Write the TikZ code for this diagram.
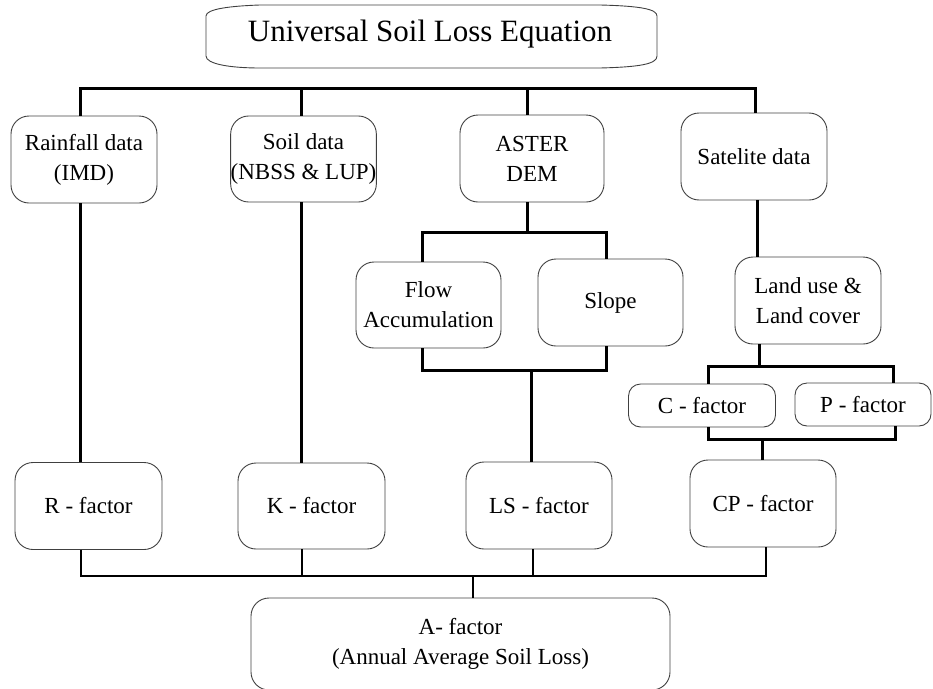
\documentclass[tikz,border=0pt]{standalone}
\usepackage{fontspec}
\setmainfont{Liberation Serif}
\begin{document}
\begin{tikzpicture}[x=1pt,y=-1pt,
  box/.style={draw=black!75, line width=0.9pt, rounded corners=18pt, align=center, inner sep=0pt,
    font=\fontsize{23}{30}\selectfont},
  smallbox/.style={box, rounded corners=12pt},
  conn/.style={line width=3pt, line join=miter},
  conn2/.style={line width=2.6pt, line join=miter}]
\useasboundingbox (0,0) rectangle (933,688);
% title
\draw[draw=black!75, line width=0.9pt] (206,16) -- (206,56) .. controls (206,64) and (230,68) .. (260,68) -- (600,68)
  .. controls (640,67) and (657,64) .. (657,56) -- (657,16) .. controls (657,9) and (640,6) .. (600,5)
  -- (260,5) .. controls (230,6) and (206,9) .. (206,16) -- cycle;
\node[font=\fontsize{31}{36}\selectfont] (title) at (430,34) {Universal Soil Loss Equation};
% row 1
\node[box, minimum width=146pt, minimum height=87pt] (rain) at (84,159.5) {Rainfall data\\(IMD)};
\node[box, minimum width=145pt, minimum height=86pt] (soil) at (303.5,159) {Soil data\\(NBSS \& LUP)};
\node[box, minimum width=144pt, minimum height=87pt] (aster) at (532,158.5) {ASTER\\DEM};
\node[box, minimum width=146pt, minimum height=87pt] (sat) at (754,156.5) {Satelite data};
% row 2
\node[box, minimum width=145pt, minimum height=86pt] (flow) at (428.5,305) {Flow\\Accumulation};
\node[box, minimum width=145pt, minimum height=87pt] (slope) at (610.5,302.5) {Slope};
\node[box, minimum width=146pt, minimum height=87pt] (land) at (808,300.5) {Land use \&\\Land cover};
% row 3
\node[smallbox, minimum width=147pt, minimum height=43pt] (cf) at (702,405.5) {C - factor};
\node[smallbox, minimum width=136pt, minimum height=43pt] (pf) at (863,404.5) {P - factor};
% row 4
\node[box, minimum width=147pt, minimum height=87pt] (rf) at (88.5,506) {R - factor};
\node[box, minimum width=147pt, minimum height=86pt] (kf) at (311.5,506) {K - factor};
\node[box, minimum width=146pt, minimum height=87pt] (lsf) at (539,505.5) {LS - factor};
\node[box, minimum width=146pt, minimum height=87pt] (cpf) at (763,503.5) {CP - factor};
% A
\node[box, minimum width=419pt, minimum height=92pt] (af) at (460.5,644) {A- factor\\(Annual Average Soil Loss)};
% top bus
\draw[conn] (80,0 |- rain.north) -- (80,88) -- (755,88) -- (755,0 |- sat.north);
\draw[conn] (301,88) -- (301,0 |- soil.north);
\draw[conn] (527,88) -- (527,0 |- aster.north);
% data to factors
\draw[conn] (80,0 |- rain.south) -- (80,0 |- rf.north);
\draw[conn] (301,0 |- soil.south) -- (301,0 |- kf.north);
% aster branch
\draw[conn] (527,0 |- aster.south) -- (527,232);
\draw[conn] (422,0 |- flow.north) -- (422,232) -- (606,232) -- (606,0 |- slope.north);
\draw[conn] (422,0 |- flow.south) -- (422,370) -- (606,370) -- (606,0 |- slope.south);
\draw[conn] (531,370) -- (531,0 |- lsf.north);
% satellite branch
\draw[conn] (757,0 |- sat.south) -- (757,0 |- land.north);
\draw[conn] (759,0 |- land.south) -- (759,366);
\draw[conn] (708,0 |- cf.north) -- (708,366) -- (893,366) -- (893,0 |- pf.north);
\draw[conn] (708,0 |- cf.south) -- (708,439) -- (895,439) -- (895,0 |- pf.south);
\draw[conn] (762,439) -- (762,0 |- cpf.north);
% bottom bus
\draw[conn2] (81,0 |- rf.south) -- (81,576) -- (766,576) -- (766,0 |- cpf.south);
\draw[conn2] (302,0 |- kf.south) -- (302,576);
\draw[conn2] (533,0 |- lsf.south) -- (533,576);
\draw[conn2] (473,576) -- (473,0 |- af.north);
\end{tikzpicture}
\end{document}
